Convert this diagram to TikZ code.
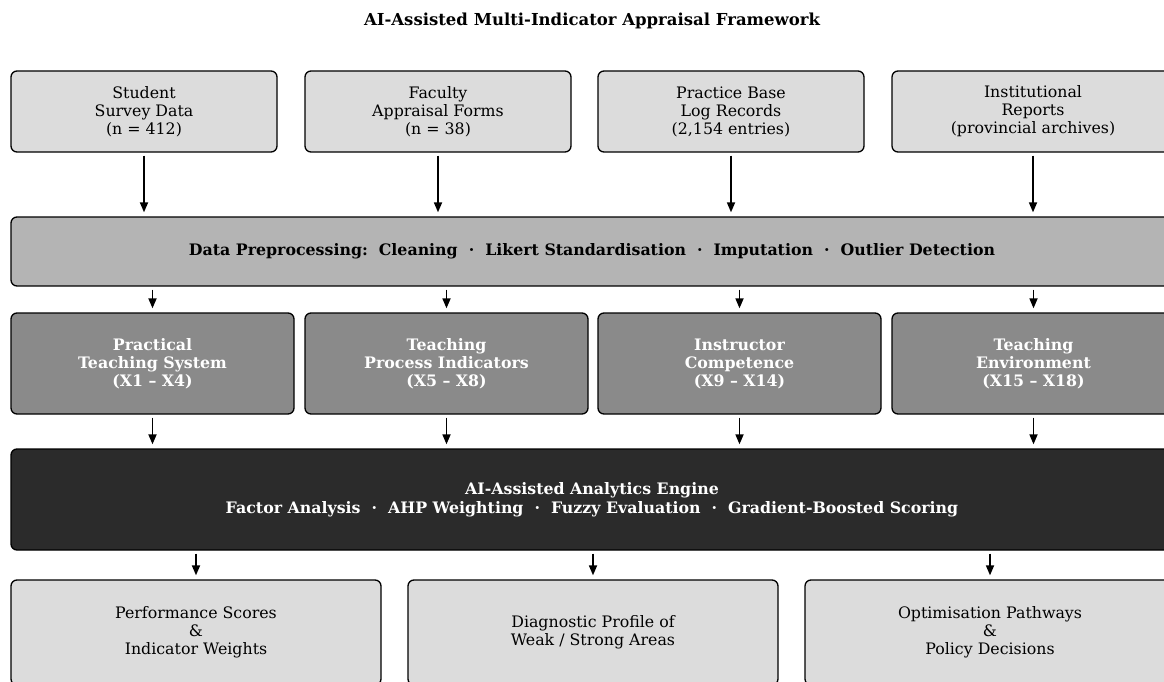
\documentclass[tikz,border=0pt]{standalone}
\usepackage{fontspec}
\setmainfont{DejaVu Serif}
\usetikzlibrary{arrows.meta}
\definecolor{srcfill}{HTML}{DCDCDC}
\definecolor{barfill}{HTML}{B4B4B4}
\definecolor{catfill}{HTML}{8A8A8A}
\definecolor{engfill}{HTML}{2B2B2B}
\tikzset{
  box/.style={draw=black, line width=1.3pt, rounded corners=6pt, inner sep=0pt, align=center},
  srcbox/.style={box, fill=srcfill, minimum width=266pt, minimum height=81pt, font=\fontsize{15.8}{18}\selectfont},
  barbox/.style={box, fill=barfill, minimum width=1162pt, minimum height=69pt, font=\bfseries\fontsize{15.8}{18}\selectfont},
  catbox/.style={box, fill=catfill, minimum width=283pt, minimum height=101pt, text=white, font=\bfseries\fontsize{15.8}{18}\selectfont},
  engbox/.style={box, fill=engfill, minimum width=1162pt, minimum height=101pt, text=white, font=\bfseries\fontsize{15.8}{19}\selectfont},
  outbox/.style={box, fill=srcfill, minimum width=370pt, minimum height=105pt, font=\fontsize{15.8}{18}\selectfont},
  arr/.style={-{Triangle[length=10pt,width=8pt]}, line width=1.7pt, shorten <=3pt, shorten >=4pt},
  titletext/.style={font=\bfseries\fontsize{16.5}{20}\selectfont}
}
\begin{document}
\begin{tikzpicture}[x=1pt,y=-1pt]
\useasboundingbox (0,0) rectangle (1164,682);
\node[titletext] (title) at (592,21) {AI-Assisted Multi-Indicator Appraisal Framework};
% sources
\node[srcbox] (s1) at (144,111.5) {Student\\Survey Data\\(n = 412)};
\node[srcbox] (s2) at (438,111.5) {Faculty\\Appraisal Forms\\(n = 38)};
\node[srcbox] (s3) at (731,111.5) {Practice Base\\Log Records\\(2,154 entries)};
\node[srcbox, minimum width=282pt] (s4) at (1033,111.5) {Institutional\\Reports\\(provincial archives)};
% preprocessing
\node[barbox] (pre) at (592,251.5) {Data Preprocessing:\ \ Cleaning\ \ ·\ \ Likert Standardisation\ \ ·\ \ Imputation\ \ ·\ \ Outlier Detection};
% categories
\node[catbox] (c1) at (152.5,363.5) {Practical\\Teaching System\\(X1 – X4)};
\node[catbox] (c2) at (446.5,363.5) {Teaching\\Process Indicators\\(X5 – X8)};
\node[catbox] (c3) at (739.5,363.5) {Instructor\\Competence\\(X9 – X14)};
\node[catbox] (c4) at (1033.5,363.5) {Teaching\\Environment\\(X15 – X18)};
% engine
\node[engbox] (eng) at (592,499.5) {AI-Assisted Analytics Engine\\Factor Analysis\ \ ·\ \ AHP Weighting\ \ ·\ \ Fuzzy Evaluation\ \ ·\ \ Gradient-Boosted Scoring};
% outputs
\node[outbox] (o1) at (196,632.5) {Performance Scores\\\&\\Indicator Weights};
\node[outbox] (o2) at (593,632.5) {Diagnostic Profile of\\Weak / Strong Areas};
\node[outbox] (o3) at (990,632.5) {Optimisation Pathways\\\&\\Policy Decisions};
% arrows
\foreach \n in {s1,s2,s3,s4}{\draw[arr] (\n.south) -- (\n.south |- pre.north);}
\foreach \n in {c1,c2,c3,c4}{\draw[arr] (\n.north |- pre.south) -- (\n.north);}
\foreach \n in {c1,c2,c3,c4}{\draw[arr] (\n.south) -- (\n.south |- eng.north);}
\foreach \n in {o1,o2,o3}{\draw[arr] (\n.north |- eng.south) -- (\n.north);}
\end{tikzpicture}
\end{document}
